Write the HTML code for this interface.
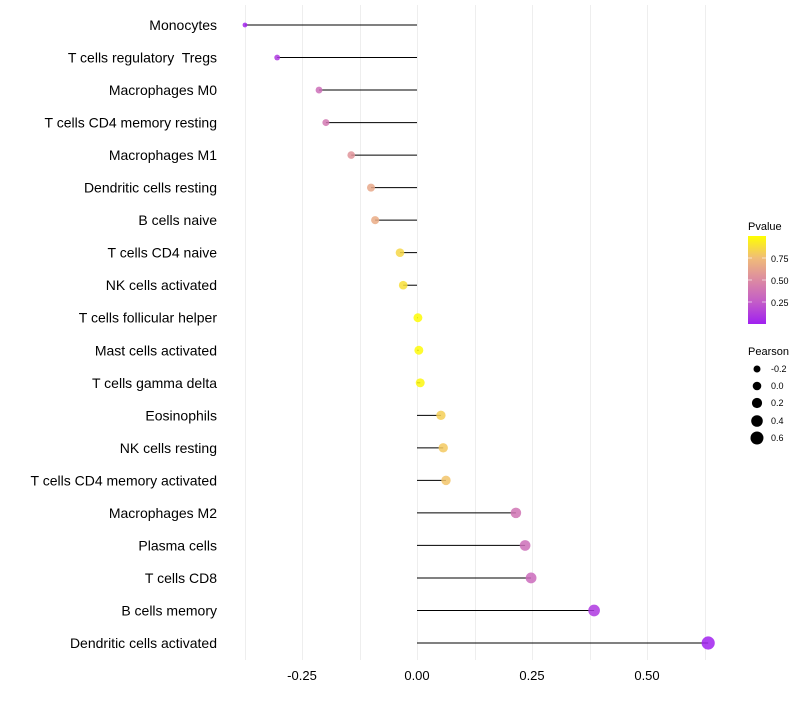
<!DOCTYPE html>
<html><head><meta charset="utf-8"><style>
body{margin:0;background:#fff;font-family:"Liberation Sans",sans-serif}
svg text{font-family:"Liberation Sans",sans-serif;white-space:pre}
</style></head><body>
<svg id="chart" width="800" height="700" viewBox="0 0 800 700">
<defs><linearGradient id="pg" x1="0" y1="1" x2="0" y2="0">
<stop offset="0" stop-color="#a020f0"/><stop offset="0.25" stop-color="#c35cc8"/><stop offset="0.5" stop-color="#dc8aa2"/><stop offset="0.75" stop-color="#f0bc78"/><stop offset="1" stop-color="#ffff00"/></linearGradient></defs>
<g id="grid"></g>
<g id="marks"></g>
<g id="ylabels"></g>
<g id="xlabels"></g>
<g>
<text x="748" y="230" font-size="11" fill="#000">Pvalue</text>
<rect x="748" y="236" width="18" height="88" fill="url(#pg)"/>
<g stroke="#fff" stroke-width="1" opacity="0.6"><line x1="748" y1="258" x2="752" y2="258"/><line x1="762" y1="258" x2="766" y2="258"/><line x1="748" y1="280" x2="752" y2="280"/><line x1="762" y1="280" x2="766" y2="280"/><line x1="748" y1="302" x2="752" y2="302"/><line x1="762" y1="302" x2="766" y2="302"/></g>
<text x="771" y="262" font-size="9" fill="#000">0.75</text>
<text x="771" y="284" font-size="9" fill="#000">0.50</text>
<text x="771" y="306" font-size="9" fill="#000">0.25</text>
</g>
<g>
<text x="748" y="355" font-size="11" fill="#000">Pearson</text>
<circle cx="757" cy="369" r="3.5"/><text x="771" y="372" font-size="9">-0.2</text>
<circle cx="757" cy="386" r="4.3"/><text x="771" y="389" font-size="9">0.0</text>
<circle cx="757" cy="403" r="5.1"/><text x="771" y="406" font-size="9">0.2</text>
<circle cx="757" cy="421" r="5.8"/><text x="771" y="424" font-size="9">0.4</text>
<circle cx="757" cy="438" r="6.5"/><text x="771" y="441" font-size="9">0.6</text>
</g>
</svg>
<script>
const categories=["Monocytes","T cells regulatory  Tregs","Macrophages M0","T cells CD4 memory resting","Macrophages M1","Dendritic cells resting","B cells naive","T cells CD4 naive","NK cells activated","T cells follicular helper","Mast cells activated","T cells gamma delta","Eosinophils","NK cells resting","T cells CD4 memory activated","Macrophages M2","Plasma cells","T cells CD8","B cells memory","Dendritic cells activated"];
const pearson=[-0.374,-0.304,-0.213,-0.198,-0.143,-0.1,-0.091,-0.037,-0.03,0.002,0.004,0.007,0.052,0.057,0.063,0.215,0.235,0.248,0.385,0.633];
const pvalues=[0.02,0.1,0.35,0.4,0.55,0.65,0.67,0.85,0.88,0.99,0.98,0.97,0.82,0.8,0.78,0.38,0.35,0.33,0.1,0.01];
const xTicks=[-0.25,0,0.25,0.5];
const xTickLabels=["-0.25","0.00","0.25","0.50"];
const ns="http://www.w3.org/2000/svg";
const X=v=>417+v*460;
const Y=i=>25+i*(618/19);
function mk(t,a,p){const e=document.createElementNS(ns,t);for(const k in a)e.setAttribute(k,a[k]);p.appendChild(e);return e;}
function lerp(a,b,t){return a+(b-a)*t}
const stops=[[0,[160,32,240]],[0.25,[195,92,200]],[0.5,[220,138,162]],[0.75,[240,188,120]],[1,[255,255,0]]];
function col(p){for(let i=0;i<stops.length-1;i++){const[a,ca]=stops[i],[b,cb]=stops[i+1];if(p<=b){const t=(p-a)/(b-a);return `rgb(${ca.map((c,j)=>Math.round(lerp(c,cb[j],t))).join(",")})`;}}return "rgb(255,255,0)";}
const grid=document.getElementById('grid');
for(let g=-0.375;g<=0.63;g+=0.125){const gx=Math.round(X(g))+0.5;const l=mk('line',{x1:gx,x2:gx,y1:5,y2:660,stroke:"#eeeeee","stroke-width":1},grid);

}
const marks=document.getElementById('marks'),yl=document.getElementById('ylabels'),xl=document.getElementById('xlabels');
categories.forEach((c,i)=>{
const s=mk('line',{x1:X(0),x2:X(pearson[i]),y1:Y(i),y2:Y(i),stroke:"#000","stroke-width":1},marks);


const r=Math.sqrt(Math.max(2,19.75+37.5*pearson[i]));
const d=mk('circle',{cx:X(pearson[i]),cy:Y(i),r:r,fill:col(pvalues[i]),"fill-opacity":0.85},marks);


const t=mk('text',{x:217,y:Y(i)+5,"text-anchor":"end","font-size":14,fill:"#000"},yl);t.textContent=c;


});
xTicks.forEach((v,i)=>{const t=mk('text',{x:X(v),y:680,"text-anchor":"middle","font-size":13,fill:"#000"},xl);t.textContent=xTickLabels[i];

});
</script>
</body></html>
